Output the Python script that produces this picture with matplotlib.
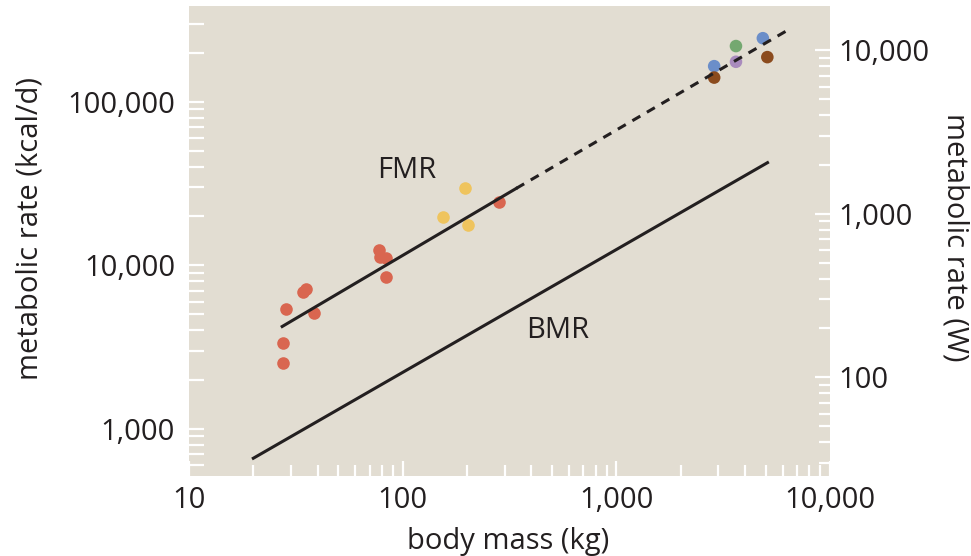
import matplotlib
matplotlib.use("Agg")
import matplotlib.pyplot as plt
from matplotlib.ticker import FixedLocator, LogLocator, NullFormatter, FuncFormatter

plt.rcParams['font.family'] = ['Open Sans', 'DejaVu Sans']

# field metabolic rate data, body mass (kg) vs kcal/d, grouped by colour
red_mass = [27.6, 27.6, 28.5, 34.0, 35.3, 38.5, 77.8, 78.6, 83.6, 83.6, 281]
red_rate = [2530, 3360, 5430, 6820, 7110, 5070, 12370, 11200, 11050, 8440, 24300]
yellow_mass = [155, 195, 203]
yellow_rate = [19600, 29600, 17700]
big_mass = [2870, 2870, 3630, 3630, 4850, 5090]
big_rate = [165000, 140500, 219000, 175500, 244600, 187400]
big_colors = ['#6b8ec9', '#8b4b1e', '#74a870', '#a98bbd', '#6b8ec9', '#8b4b1e']

# fitted lines (end points)
fmr_solid_mass = [27.3, 340]
fmr_solid_rate = [4220, 29500]
fmr_dash_mass = [340, 6430]
fmr_dash_rate = [29500, 277000]
bmr_mass = [20, 5100]
bmr_rate = [660, 42400]

KCAL_TO_W = 0.04843
ylims = (514, 385000)
xlims = (10, 10000)

ink = '#231f20'
fs = 21

fig = plt.figure(figsize=(9.71, 5.56), dpi=100)
ax = fig.add_axes([189 / 971, 1 - 476 / 556, (830 - 189) / 971, (476 - 6) / 556])
ax.set_facecolor('#e2ddd2')
for s in ax.spines.values():
    s.set_visible(False)

ax.set_xscale('log')
ax.set_yscale('log')
ax.set_xlim(*xlims)
ax.set_ylim(*ylims)

ax.scatter(red_mass, red_rate, s=82, color='#d96650', zorder=3, linewidths=0)
ax.scatter(yellow_mass, yellow_rate, s=82, color='#efc45e', zorder=3, linewidths=0)
ax.scatter(big_mass, big_rate, s=82, color=big_colors, zorder=3, linewidths=0)

ax.plot(fmr_solid_mass, fmr_solid_rate, color=ink, lw=2.2, zorder=4)
ax.plot(fmr_dash_mass, fmr_dash_rate, color=ink, lw=2.2, ls=(0, (3, 2.5)), zorder=4)
ax.plot(bmr_mass, bmr_rate, color=ink, lw=2.2, zorder=4)

fig.text(407 / 971, 1 - 170 / 556, 'FMR', fontsize=fs, color=ink,
         ha='center', va='center')
fig.text(558 / 971, 1 - 330 / 556, 'BMR', fontsize=fs, color=ink,
         ha='center', va='center')

fmt = FuncFormatter(lambda v, p: f'{v:,.0f}')
tick_kw = dict(direction='in', color='white', width=1.6)

ax.xaxis.set_major_locator(FixedLocator([10, 100, 1000, 10000]))
ax.xaxis.set_minor_locator(LogLocator(base=10, subs=range(2, 10)))
ax.xaxis.set_major_formatter(fmt)
ax.xaxis.set_minor_formatter(NullFormatter())
ax.yaxis.set_major_locator(FixedLocator([1000, 10000, 100000]))
ax.yaxis.set_minor_locator(LogLocator(base=10, subs=range(2, 10)))
ax.yaxis.set_major_formatter(fmt)
ax.yaxis.set_minor_formatter(NullFormatter())
ax.tick_params(axis='both', which='major', length=11, labelsize=fs,
               labelcolor=ink, **tick_kw)
ax.tick_params(axis='both', which='minor', length=8, **tick_kw)
ax.tick_params(axis='x', which='major', pad=7)
ax.tick_params(axis='y', which='major', pad=10)
ax.tick_params(axis='y', which='minor', length=11)

# axis titles placed by hand
fig.text(508 / 971, 1 - 541 / 556, 'body mass (kg)', fontsize=fs, color=ink,
         ha='center', va='center')
fig.text(30 / 971, 1 - 228 / 556, 'metabolic rate (kcal/d)', fontsize=fs,
         color=ink, ha='center', va='center', rotation=90)
fig.text(955 / 971, 1 - 237 / 556, 'metabolic rate (W)', fontsize=fs,
         color=ink, ha='center', va='center', rotation=270)

# right axis in watts
ax2 = ax.twinx()
for s in ax2.spines.values():
    s.set_visible(False)
ax2.set_yscale('log')
ax2.set_ylim(ylims[0] * KCAL_TO_W, ylims[1] * KCAL_TO_W)
ax2.yaxis.set_major_locator(FixedLocator([100, 1000, 10000]))
ax2.yaxis.set_minor_locator(LogLocator(base=10, subs=range(2, 10)))
ax2.yaxis.set_major_formatter(fmt)
ax2.yaxis.set_minor_formatter(NullFormatter())
ax2.tick_params(axis='y', which='major', length=11, labelsize=fs, pad=6,
                labelcolor=ink, **tick_kw)
ax2.tick_params(axis='y', which='minor', length=8, **tick_kw)

fig.savefig('out.png', dpi=100)
